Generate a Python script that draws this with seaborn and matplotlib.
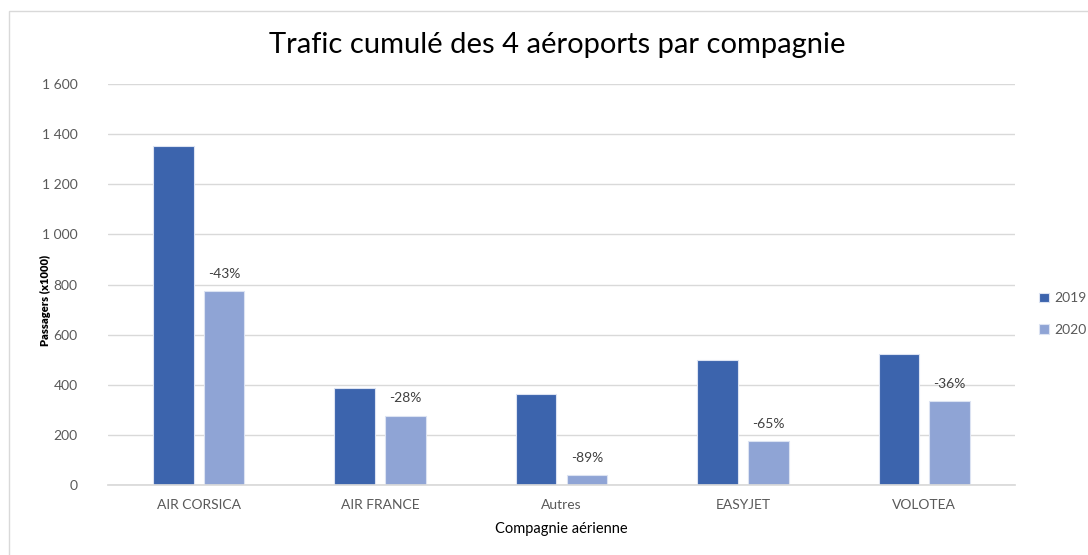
# -*- coding: utf-8 -*-
# Trafic cumulé des 4 aéroports par compagnie (2019 vs 2020)

import pandas as pd
import matplotlib.pyplot as plt
import matplotlib.patches as mpatches
import seaborn as sns

# Données (passagers x1000)
compagnies = ["AIR CORSICA", "AIR FRANCE", "Autres", "EASYJET", "VOLOTEA"]
trafic_2019 = [1353, 387, 364, 500, 521]
trafic_2020 = [774, 277, 39, 176, 334]
variations = ["-43%", "-28%", "-89%", "-65%", "-36%"]
annees = ["2019", "2020"]
couleurs = ["#3C64AD", "#8FA4D5"]

df = pd.DataFrame({
    "compagnie": compagnies * 2,
    "annee": [annees[0]] * 5 + [annees[1]] * 5,
    "passagers": trafic_2019 + trafic_2020,
})

sns.set_theme(style="white")
plt.rcParams["font.family"] = ["Lato", "DejaVu Sans"]

gris = "#595959"
fig = plt.figure(figsize=(10.88, 5.55), dpi=100)
ax = fig.add_axes([108 / 1088, 70 / 555, 907 / 1088, 401 / 555])

sns.barplot(data=df, x="compagnie", y="passagers", hue="annee",
            palette=couleurs, saturation=1, width=0.56, gap=0.2, ax=ax,
            linewidth=0.8, edgecolor="#DCE3F2", legend=True)

# Étiquettes de variation sur les barres 2020
ax.bar_label(ax.containers[1], labels=variations, padding=8,
             fontsize=10, color="#404040")

ax.set_ylim(0, 1600)
yticks = list(range(0, 1601, 200))
ax.set_yticks(yticks)
ax.set_yticklabels([f"{v:,}".replace(",", " ") for v in yticks])
ax.yaxis.grid(True, color="#D9D9D9", linewidth=1)
ax.set_axisbelow(True)
for side in ["top", "right", "left"]:
    ax.spines[side].set_visible(False)
ax.spines["bottom"].set_color("#D9D9D9")
ax.tick_params(axis="both", length=0, labelsize=10, colors=gris, pad=10)
ax.tick_params(axis="y", pad=22)

ax.set_xlabel("Compagnie aérienne", fontsize=10.5, color="black", labelpad=8)
ax.set_ylabel("Passagers (x1000)", fontsize=8, fontweight="heavy", color="black")
ax.yaxis.set_label_coords(-0.063, 0.46)

ax.legend_.remove()
handles, labels = ax.get_legend_handles_labels()
leg = fig.legend(handles, labels, loc="center left",
                 bbox_to_anchor=(1039 / 1088, 1 - 314 / 555),
                 borderaxespad=0, borderpad=0, frameon=False,
                 fontsize=10, handlelength=0.7, handleheight=0.7,
                 handletextpad=0.4, labelspacing=1.4)
for t in leg.get_texts():
    t.set_color(gris)

fig.text(557 / 1088, 1 - 45 / 555, "Trafic cumulé des 4 aéroports par compagnie",
         ha="center", va="center", fontsize=21, color="black")

# Cadre du graphique
fig.patches.append(mpatches.Rectangle((9 / 1088, -0.1), 1.2, 1 - 11 / 555 + 0.1,
                                      transform=fig.transFigure, fill=False,
                                      edgecolor="#D9D9D9", linewidth=1))

fig.savefig("out.png", dpi=100)
